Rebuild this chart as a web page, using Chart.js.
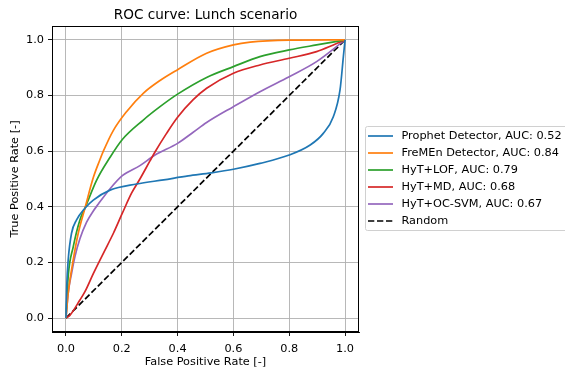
<!DOCTYPE html>
<html>
<head>
<meta charset="utf-8">
<script src="https://cdn.jsdelivr.net/npm/chart.js@4/dist/chart.umd.min.js"></script>
<style>
  html, body { margin: 0; padding: 0; background: #fff; }
  #wrap { width: 565px; height: 372px; }
</style>
</head>
<body>
<div id="wrap"><canvas id="roc" width="565" height="372"></canvas></div>
<script>
// --- data ---
const titleText = 'ROC curve: Lunch scenario';
const xTicks = [0, 0.2, 0.4, 0.6, 0.8, 1.0];
const yTicks = [0, 0.2, 0.4, 0.6, 0.8, 1.0];

const labels = [
    'Prophet Detector, AUC: 0.52',
    'FreMEn Detector, AUC: 0.84',
    'HyT+LOF, AUC: 0.79',
    'HyT+MD, AUC: 0.68',
    'HyT+OC-SVM, AUC: 0.67',
    'Random'
];

const fprProphet = [0, 0.003, 0.008, 0.02, 0.038, 0.068, 0.098, 0.158, 0.253, 0.35, 0.438, 0.52, 0.6, 0.695, 0.8, 0.875, 0.922, 0.958, 0.982, 0.994, 1];
const tprProphet = [0, 0.12, 0.209, 0.305, 0.353, 0.395, 0.424, 0.46, 0.482, 0.497, 0.511, 0.522, 0.535, 0.556, 0.586, 0.622, 0.664, 0.724, 0.82, 0.94, 1];

const fprFremen = [0, 0.008, 0.026, 0.044, 0.068, 0.098, 0.122, 0.134, 0.17, 0.217, 0.277, 0.337, 0.4, 0.504, 0.6, 0.66, 0.8, 1];
const tprFremen = [0, 0.089, 0.209, 0.305, 0.395, 0.505, 0.57, 0.6, 0.675, 0.742, 0.808, 0.854, 0.893, 0.952, 0.982, 0.992, 0.999, 1];

const fprLof = [0, 0.008, 0.026, 0.05, 0.068, 0.11, 0.158, 0.202, 0.277, 0.337, 0.4, 0.504, 0.6, 0.695, 0.8, 0.898, 1];
const tprLof = [0, 0.15, 0.256, 0.353, 0.395, 0.496, 0.578, 0.642, 0.712, 0.76, 0.805, 0.865, 0.904, 0.94, 0.964, 0.982, 1];

const fprMd = [0, 0.014, 0.05, 0.068, 0.098, 0.134, 0.17, 0.202, 0.235, 0.265, 0.301, 0.319, 0.361, 0.4, 0.456, 0.504, 0.6, 0.695, 0.8, 0.898, 0.958, 1];
const tprMd = [0, 0.01, 0.065, 0.095, 0.16, 0.233, 0.305, 0.377, 0.449, 0.5, 0.565, 0.597, 0.665, 0.722, 0.785, 0.826, 0.88, 0.91, 0.934, 0.958, 0.982, 1];

const fprSvm = [0, 0.008, 0.02, 0.032, 0.05, 0.074, 0.098, 0.116, 0.158, 0.202, 0.265, 0.319, 0.4, 0.456, 0.504, 0.6, 0.695, 0.8, 0.898, 1];
const tprSvm = [0, 0.09, 0.16, 0.22, 0.285, 0.345, 0.385, 0.41, 0.465, 0.512, 0.548, 0.586, 0.628, 0.668, 0.703, 0.76, 0.814, 0.868, 0.922, 1];

const fprRandom = [0, 1];
const tprRandom = [0, 1];

const colors = ['#1f77b4', '#ff7f0e', '#2ca02c', '#d62728', '#9467bd', '#000000'];

// --- helpers ---
function toPoints(xs, ys) {
    return xs.map((x, i) => ({ x: x, y: ys[i] }));
}

const series = [
    [fprProphet, tprProphet],
    [fprFremen, tprFremen],
    [fprLof, tprLof],
    [fprMd, tprMd],
    [fprSvm, tprSvm],
    [fprRandom, tprRandom]
];

const datasets = series.map((s, i) => ({
    label: labels[i],
    data: toPoints(s[0], s[1]),
    borderColor: colors[i],
    backgroundColor: colors[i],
    borderWidth: 1.7,
    borderDash: i === 5 ? [6.3, 2.7] : [],
    pointRadius: 0,
    showLine: true,
    cubicInterpolationMode: 'monotone',
    fill: false
}));

const FONT = 'DejaVu Sans, sans-serif';
const FS = 11.3;

// frame, title and matplotlib-like legend box
const mplDecor = {
    id: 'mplDecor',
    afterDraw(chart) {
        const ctx = chart.ctx;
        const a = chart.chartArea;
        ctx.save();
        // frame on all four sides
        ctx.strokeStyle = '#000';
        ctx.lineWidth = 1;
        ctx.strokeRect(a.left + 0.5, a.top + 0.5, a.right - a.left - 1, a.bottom - a.top - 1);

        // title
        ctx.fillStyle = '#000';
        ctx.font = '13.6px ' + FONT;
        ctx.textAlign = 'center';
        ctx.textBaseline = 'alphabetic';
        ctx.fillText(titleText, (a.left + a.right) / 2, 18.5);

        // legend
        const lx = 365, ly = 126, lw = 210, lh = 104;
        ctx.beginPath();
        ctx.lineWidth = 1;
        ctx.strokeStyle = '#d0d0d0';
        ctx.fillStyle = 'rgba(255,255,255,0.8)';
        if (ctx.roundRect) ctx.roundRect(lx + 0.5, ly + 0.5, lw, lh, 2);
        else ctx.rect(lx + 0.5, ly + 0.5, lw, lh);
        ctx.fill();
        ctx.stroke();

        ctx.font = FS + 'px ' + FONT;
        ctx.textAlign = 'left';
        ctx.textBaseline = 'middle';
        chart.data.datasets.forEach((ds, i) => {
            const y = 136 + i * 17;
            ctx.beginPath();
            ctx.strokeStyle = ds.borderColor;
            ctx.lineWidth = 1.7;
            ctx.setLineDash(ds.borderDash || []);
            ctx.moveTo(368, y);
            ctx.lineTo(393, y);
            ctx.stroke();
            ctx.setLineDash([]);
            ctx.fillStyle = '#000';
            ctx.fillText(ds.label, 401.5, y + 0.5);
        });
        ctx.restore();
    }
};

function axisOptions(ticks, titleStr, isY) {
    return {
        type: 'linear',
        min: -0.05,
        max: 1.05,
        afterBuildTicks(scale) {
            scale.ticks = ticks.map(v => ({ value: v }));
        },
        afterFit(scale) {
            if (isY) scale.width = 52;
            else scale.height = 40;
        },
        ticks: {
            color: '#000',
            font: { family: FONT, size: FS },
            padding: isY ? 4 : 6,
            callback: v => Number(v).toFixed(1)
        },
        grid: {
            color: '#b0b0b0',
            lineWidth: 0.9,
            tickColor: '#000',
            tickLength: 4,
            drawTicks: true
        },
        border: { display: true, color: '#000', width: 1 },
        title: {
            display: true,
            text: titleStr,
            color: '#000',
            font: { family: FONT, size: FS },
            padding: isY ? { top: 8, bottom: 0 } : { top: 0, bottom: 3 }
        }
    };
}

new Chart(document.getElementById('roc'), {
    type: 'scatter',
    data: { datasets: datasets },
    options: {
        responsive: false,
        animation: false,
        layout: { padding: { left: 0, right: 206, top: 26, bottom: 0 } },
        plugins: {
            legend: { display: false },
            title: { display: false },
            tooltip: { enabled: false }
        },
        scales: {
            x: axisOptions(xTicks, 'False Positive Rate [-]', false),
            y: axisOptions(yTicks, 'True Positive Rate [-]', true)
        }
    },
    plugins: [mplDecor]
});
</script>
</body>
</html>
